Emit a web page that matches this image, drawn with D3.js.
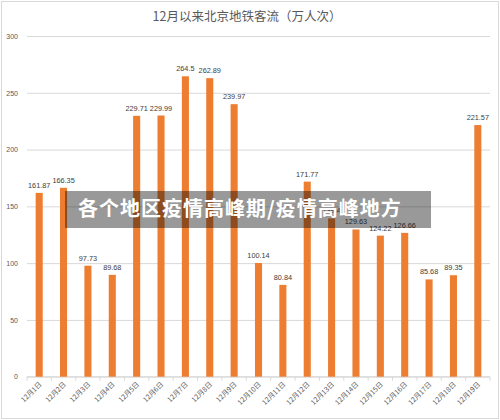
<!DOCTYPE html>
<html>
<head>
<meta charset="utf-8">
<script src="https://cdn.jsdelivr.net/npm/d3@7"></script>
<style>
  body { margin: 0; background: #fff; }
  svg { display: block; font-family: "Liberation Sans", "Noto Sans CJK SC", sans-serif; }
</style>
</head>
<body>
<svg id="chart" width="500" height="420"></svg>
<script>
// 12月以来北京地铁客流 — one bar per day
const days = ["12月1日", "12月2日", "12月3日", "12月4日", "12月5日", "12月6日", "12月7日",
    "12月8日", "12月9日", "12月10日", "12月11日", "12月12日", "12月13日", "12月14日",
    "12月15日", "12月16日", "12月17日", "12月18日", "12月19日"];
// 12月13日 label sits under the banner
const riders = [161.87, 166.35, 97.73, 89.68, 229.71, 229.99, 264.5, 262.89, 239.97,
    100.14, 80.84, 171.77, 139.4, 129.63, 124.22, 126.66, 85.68, 89.35, 221.57];
const yTicks = [0, 50, 100, 150, 200, 250, 300];

const W = 500, H = 420;
const margin = { top: 36, right: 10, bottom: 43.3, left: 27 };
const svg = d3.select("#chart");

// outer frame
svg.append("rect").attr("x", 1.5).attr("y", 1.5).attr("width", W - 3).attr("height", H - 3)
    .attr("fill", "#fff").attr("stroke", "#d9d9d9");

const x = d3.scaleBand().domain(days).range([margin.left, W - margin.right]).paddingInner(0.71).paddingOuter(0.355);
const xCat = d3.scaleBand().domain(days).range([margin.left, W - margin.right]);
const y = d3.scaleLinear().domain([0, 300]).range([H - margin.bottom, margin.top]);

svg.append("text").attr("x", 247).attr("y", 21).attr("text-anchor", "middle")
    .attr("fill", "#595959").attr("font-size", 12.5)
    .attr("font-family", "'Noto Sans CJK SC', sans-serif")
    .text("12月以来北京地铁客流（万人次）");

// gridlines + y labels
const yAx = svg.append("g").attr("transform", `translate(${margin.left},0)`)
    .call(d3.axisLeft(y).tickValues(yTicks).tickSize(-(W - margin.left - margin.right)).tickPadding(9));
yAx.select(".domain").remove();
yAx.selectAll("line").attr("stroke", "#d9d9d9");
yAx.selectAll("text").attr("fill", "#595959").attr("font-size", 7).attr("font-family", "'Liberation Sans', sans-serif");

// x axis line with boundary ticks
const x0 = y(0);
svg.append("line").attr("x1", margin.left).attr("x2", W - margin.right)
    .attr("y1", x0).attr("y2", x0).attr("stroke", "#d9d9d9");
svg.selectAll("line.xtick").data(days.concat(["end"])).enter().append("line")
    .attr("class", "xtick")
    .attr("x1", (d, i) => i < days.length ? xCat(d) : W - margin.right)
    .attr("x2", (d, i) => i < days.length ? xCat(d) : W - margin.right)
    .attr("y1", x0).attr("y2", x0 + 4).attr("stroke", "#d9d9d9");

// bars
svg.selectAll("rect.bar").data(riders).enter().append("rect")
    .attr("class", "bar")
    .attr("x", (d, i) => x(days[i]))
    .attr("width", x.bandwidth())
    .attr("y", d => y(d))
    .attr("height", d => y(0) - y(d))
    .attr("fill", "#ed7d31");

// data labels
svg.selectAll("text.val").data(riders).enter().append("text")
    .attr("class", "val")
    .attr("x", (d, i) => x(days[i]) + x.bandwidth() / 2)
    .attr("y", d => y(d) - 5)
    .attr("text-anchor", "middle")
    .attr("fill", "#404040").attr("font-size", 7.3)
    .text(d => d);

// rotated category labels
svg.selectAll("text.day").data(days).enter().append("text")
    .attr("class", "day")
    .attr("transform", d => `translate(${xCat(d) + xCat.bandwidth() / 2 + 3},${x0 + 8}) rotate(-45)`)
    .attr("text-anchor", "end")
    .attr("fill", "#595959").attr("font-size", 7)
    .attr("font-family", "'Noto Sans CJK SC', sans-serif")
    .text(d => d);

// banner overlay (sits on top of the chart, as in the source image)
svg.append("rect").attr("x", 65).attr("y", 191).attr("width", 366).attr("height", 37)
    .attr("fill", "#000").attr("opacity", 0.4);
svg.append("text").attr("x", 78).attr("y", 216)
    .attr("fill", "#fff").attr("font-size", 20).attr("font-weight", "bold")
    .attr("letter-spacing", 1)
    .attr("font-family", "'Noto Sans CJK SC', sans-serif")
    .text("各个地区疫情高峰期/疫情高峰地方");
</script>
</body>
</html>
